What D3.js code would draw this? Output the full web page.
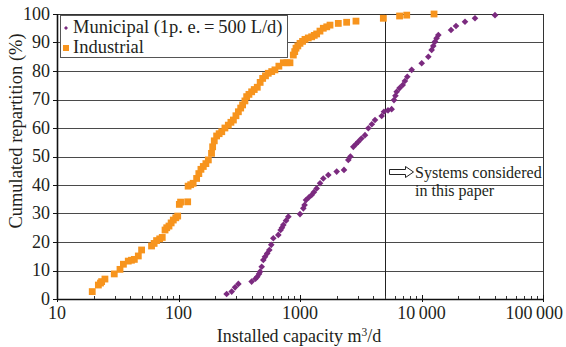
<!DOCTYPE html>
<html><head><meta charset="utf-8">
<script src="https://cdn.jsdelivr.net/npm/d3@7"></script>
<style>body{margin:0;background:#fff;}</style></head>
<body><svg id="c" width="566" height="347"></svg>
<script>
const industrialCap=[19.5,21.9,22.8,23.3,24.8,29.6,33,35.2,38.6,41,43.3,46.7,49.7,60,63,66,70,73.5,77.5,80,83.5,87,90.6,95,98.5,101.6,104,119,120,126,132,141,147,153,160,168,176,187,191,197,206,216,227,241,257,270,283,297,311,325,337,352,364,380,400,420,445,470,493,520,548,585,622,670,729,780,827,881,905,927,960,1000,1050,1099,1170,1247,1310,1371,1460,1555,1660,1766,2066,2421,2889,4852,6600,7555,12680];
const industrialPct=[2.6,4.9,5.6,6.1,7.0,8.8,10.4,12.2,13.3,13.6,13.9,15.1,17.2,18.6,19.5,20.5,21.1,21.6,24.2,25,25.6,26.7,27.7,28.5,29.1,33.2,34,34.1,39.6,40.1,40.6,42.3,44,45.5,46.5,47.5,48.8,51.1,53.4,55.5,57.2,58,58.7,60,61,62,62.8,64.3,65.7,67,68.1,69.5,71,71.8,72.7,73.5,74.3,76,77.4,78.3,79.2,79.8,80.4,81.7,82.9,82.9,82.9,85.6,86.8,88,88.8,89.7,90.4,91.1,91.6,92.0,92.5,93.0,94,95,95.5,96.1,96.7,97.1,97.5,98.5,99.3,99.6,100];
const municipalCap=[249,274,292,311,400,430,445,460,469,484,499,515,537,559,580,603,663,693,710,729,767,802,1000,1065,1090,1120,1180,1247,1300,1371,1462,1555,1710,2004,2302,2498,2600,2748,2880,3020,3200,3428,3650,3900,4142,4701,4909,5300,5678,5937,6100,6247,6600,7005,7300,7640,8300,10040,11380,12120,12500,12920,13300,13760,17500,19230,22800,27560,40270];
const municipalPct=[1.75,2.6,4.1,5.3,6.1,7.1,7.8,8.8,9.6,11.3,13.7,14.8,16,17.2,19,21.3,22.5,24.2,25,26,27.5,28.9,29.8,31.8,33,34.7,35.6,36.5,37.5,38.8,40.6,42.3,43.5,44.7,45.3,48.8,50,53.4,54.3,55.2,56.3,57.5,59.9,61.3,62.8,64.2,65.7,66.2,66.6,69.8,71.3,72.7,74,75.1,76.5,78,80.4,82.7,85,87.4,88.8,90.3,91.5,92.6,94.4,95.8,97.3,98.5,99.6];
const xTicks=[10,100,1000,10000,100000];
const xTickLabels=["10","100","1000","10\u2009000","100\u2009000"];
const yTicks=[0,10,20,30,40,50,60,70,80,90,100];
const seriesNames=["Municipal (1p. e.\u2009=\u2009500 L/d)","Industrial"];
const thresholdCap=5000;

const orange="#f7941d", purple="#7b2a7f";
const svg=d3.select("#c");
const L=57,R=543,T=14,B=299;
const x=d3.scaleLog().domain([10,100000]).range([L,R]);
const y=d3.scaleLinear().domain([0,100]).range([B,T]);

svg.append("g").selectAll("line").data(yTicks.filter(d=>d>0&&d<100)).join("line")
  .attr("x1",L).attr("x2",R).attr("y1",d=>Math.round(y(d))+0.5).attr("y2",d=>Math.round(y(d))+0.5)
  .attr("stroke","#4a4a4a").attr("stroke-width",1);
svg.append("line").attr("x1",L).attr("x2",R).attr("y1",T+0.5).attr("y2",T+0.5).attr("stroke","#333");
svg.append("line").attr("x1",R+0.5).attr("x2",R+0.5).attr("y1",T).attr("y2",B).attr("stroke","#333");
svg.append("line").attr("x1",Math.round(x(thresholdCap))+0.5).attr("x2",Math.round(x(thresholdCap))+0.5)
  .attr("y1",T).attr("y2",B).attr("stroke","#222").attr("stroke-width",1);

const minor=[];
for(let e=1;e<5;e++)for(let m=2;m<10;m++)minor.push(m*Math.pow(10,e));
const gx=svg.append("g");
gx.append("line").attr("x1",L).attr("x2",R+1).attr("y1",B+0.5).attr("y2",B+0.5).attr("stroke","#111").attr("stroke-width",1.3);
gx.selectAll("line.mi").data(minor).join("line").attr("class","mi")
  .attr("x1",d=>Math.round(x(d))+0.5).attr("x2",d=>Math.round(x(d))+0.5).attr("y1",B-3).attr("y2",B).attr("stroke","#333");
gx.selectAll("line.ma").data(xTicks).join("line").attr("class","ma")
  .attr("x1",d=>Math.round(x(d))+0.5).attr("x2",d=>Math.round(x(d))+0.5).attr("y1",B-4).attr("y2",B+3).attr("stroke","#111");
gx.selectAll("text").data(xTicks).join("text")
  .attr("x",(d,i)=>i===xTicks.length-1?563:x(d)).attr("y",B+20)
  .attr("text-anchor",(d,i)=>i===xTicks.length-1?"end":"middle").attr("font-size",18)
  .text((d,i)=>xTickLabels[i]);
const xt=svg.append("text").attr("x",299).attr("y",342).attr("text-anchor","middle").attr("font-size",18);
xt.append("tspan").text("Installed capacity m");
xt.append("tspan").attr("dy",-6).attr("font-size",11.5).text("3");
xt.append("tspan").attr("dy",6).text("/d");

const gy=svg.append("g");
gy.append("line").attr("x1",L+0.5).attr("x2",L+0.5).attr("y1",T).attr("y2",B+1).attr("stroke","#111").attr("stroke-width",1.6);
gy.selectAll("line.t").data(yTicks).join("line").attr("class","t")
  .attr("x1",L-4).attr("x2",L).attr("y1",d=>Math.round(y(d))+0.5).attr("y2",d=>Math.round(y(d))+0.5).attr("stroke","#111");
gy.selectAll("text").data(yTicks).join("text")
  .attr("x",L-7).attr("y",d=>y(d)+5.5).attr("text-anchor","end").attr("font-size",18).text(d=>d);
svg.append("text").attr("transform","translate(22,131) rotate(-90)").attr("text-anchor","middle")
  .attr("font-size",18.5).text("Cumulated repartition (%)");

const ind=industrialCap.map((c,i)=>({c,p:industrialPct[i]}));
const mun=municipalCap.map((c,i)=>({c,p:municipalPct[i]}));
svg.append("g").selectAll("rect").data(ind).join("rect")
  .attr("x",d=>x(d.c)-3.4).attr("y",d=>y(d.p)-3.4).attr("width",6.8).attr("height",6.8).attr("fill",orange);
const dia=d3.symbol().type(d3.symbolSquare).size(22);
svg.append("g").selectAll("path").data(mun).join("path")
  .attr("d",dia).attr("transform",d=>`translate(${x(d.c)},${y(d.p)}) rotate(45)`).attr("fill",purple);

const lg=svg.append("g");
lg.append("rect").attr("x",60.5).attr("y",15.5).attr("width",227).attr("height",42).attr("fill","#fff").attr("stroke","#555");
lg.append("path").attr("d",d3.symbol().type(d3.symbolSquare).size(8)).attr("transform","translate(66,28) rotate(45)").attr("fill",purple);
lg.append("rect").attr("x",63).attr("y",45).attr("width",6).attr("height",6).attr("fill",orange);
lg.append("text").attr("x",73).attr("y",33).attr("font-size",18.5).text(seriesNames[0]);
lg.append("text").attr("x",73).attr("y",53).attr("font-size",18.5).text(seriesNames[1]);

const ax=Math.round(x(thresholdCap))+4.5, ay=172;
svg.append("path").attr("d",`M${ax},${ay-2.5} h16 v-3 l8,5.5 l-8,5.5 v-3 h-16 z`)
  .attr("fill","#fff").attr("stroke","#222").attr("stroke-width",1);
svg.append("text").attr("x",415).attr("y",178).attr("font-size",16).text("Systems considered");
svg.append("text").attr("x",415).attr("y",196).attr("font-size",16).text("in this paper");

svg.selectAll("text").style("font-family","'Liberation Serif'").style("fill","#231f20");
</script></body></html>
